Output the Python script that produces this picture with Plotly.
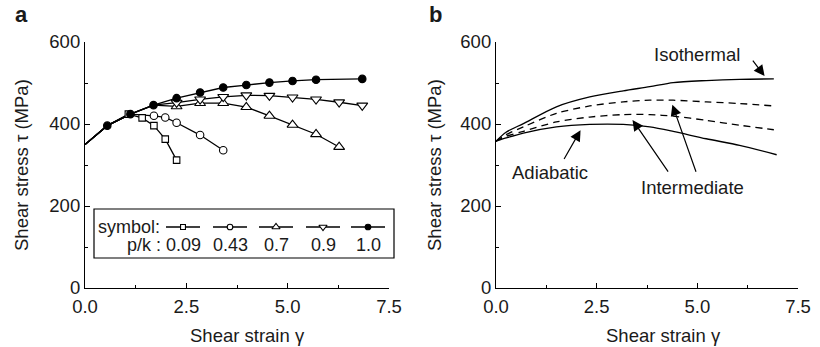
import plotly.graph_objects as go

W, H = 820, 347
FONT = "Liberation Sans, Arial, Helvetica, sans-serif"
FS = 18.5
INK = "#1a1a1a"

# ---------------- Panel a data ----------------
start_g, start_t = [0.0, 0.55, 1.12, 1.69], [350, 396, 424, 446]

g_009 = [1.07, 1.41, 1.70, 1.98, 2.26]
t_009 = [424, 415, 396, 363, 312]

g_043 = [1.70, 1.98, 2.26, 2.84, 3.41]
t_043 = [420, 416, 403, 373, 336]

g_070 = [2.26, 2.84, 3.41, 3.98, 4.55, 5.12, 5.70, 6.27]
t_070 = [443, 451, 451, 441, 420, 398, 375, 344]

g_090 = [2.26, 2.84, 3.41, 3.98, 4.55, 5.12, 5.70, 6.27, 6.84]
t_090 = [452, 460, 466, 470, 469, 465, 460, 453, 445]

g_100 = [0.55, 1.12, 1.69, 2.26, 2.84, 3.41, 3.98, 4.55, 5.12, 5.70, 6.84]
t_100 = [396, 424, 446, 463, 477, 489, 495, 501, 505, 508, 510]

pk_labels = ["0.09", "0.43", "0.7", "0.9", "1.0"]

# ---------------- Panel b data ----------------
g_b = [0.0, 0.25, 0.68, 1.5, 2.33, 3.16, 3.82, 4.4, 5.22, 6.05, 6.9]
t_iso = [358, 380, 401, 442, 466, 481, 491, 501, 506, 509, 510]
t_int_hi = [358, 374, 393, 426, 444, 454, 458, 458, 454, 450, 444]
t_int_lo = [358, 370, 382, 405, 417, 423, 423, 419, 409, 397, 386]
g_adi = [0.0, 0.25, 0.68, 1.5, 2.33, 3.16, 3.82, 4.4, 5.22, 6.05, 6.97]
t_adi = [358, 366, 378, 393, 399, 399, 393, 382, 364, 348, 325]

fig = go.Figure()

# panel a lines
def line_a(gs, ts):
    fig.add_trace(go.Scatter(x=gs, y=ts, mode="lines", xaxis="x", yaxis="y",
                             line=dict(color="black", width=1.3), hoverinfo="skip",
                             showlegend=False))

line_a(start_g[:2] + g_009, start_t[:2] + t_009)
line_a(start_g[:3] + g_043, start_t[:3] + t_043)
line_a(start_g + g_070, start_t + t_070)
line_a(start_g + g_090, start_t + t_090)
line_a(start_g[:1] + g_100, start_t[:1] + t_100)

series = [
    (g_009, t_009, "square", 6.5, "white"),
    (g_043, t_043, "circle", 7.5, "white"),
    (g_070, t_070, "triangle-up", 9.5, "white"),
    (g_090, t_090, "triangle-down", 9.5, "white"),
    (g_100, t_100, "circle", 7.5, "black"),
]
for gs, ts, sym, sz, fc in series:
    fig.add_trace(go.Scatter(x=gs, y=ts, mode="markers", xaxis="x", yaxis="y",
                             marker=dict(symbol=sym, size=sz, color=fc,
                                         line=dict(color="black", width=1.1)),
                             showlegend=False, hoverinfo="skip"))

# panel b lines
bline = dict(color="black", width=1.3, shape="spline", smoothing=0.8)
fig.add_trace(go.Scatter(x=g_b, y=t_iso, mode="lines", xaxis="x2", yaxis="y2",
                         line=bline, showlegend=False))
fig.add_trace(go.Scatter(x=g_b, y=t_int_hi, mode="lines", xaxis="x2", yaxis="y2",
                         line=dict(bline, dash="7px,5px"), showlegend=False))
fig.add_trace(go.Scatter(x=g_b, y=t_int_lo, mode="lines", xaxis="x2", yaxis="y2",
                         line=dict(bline, dash="7px,5px"), showlegend=False))
fig.add_trace(go.Scatter(x=g_adi, y=t_adi, mode="lines", xaxis="x2", yaxis="y2",
                         line=bline, showlegend=False))

# legend samples on a pixel-space overlay axis
leg_centers = [183, 230, 276, 323, 368]
leg_half = 17
leg_y = 227
for (gs, ts, sym, sz, fc), cx in zip(series, leg_centers):
    fig.add_trace(go.Scatter(x=[cx - leg_half, cx + leg_half], y=[leg_y, leg_y], mode="lines",
                             xaxis="x3", yaxis="y3", line=dict(color="black", width=1.3),
                             showlegend=False, hoverinfo="skip"))
    fig.add_trace(go.Scatter(x=[cx], y=[leg_y], mode="markers", xaxis="x3", yaxis="y3",
                             marker=dict(symbol=sym, size=sz * 0.75, color=fc,
                                         line=dict(color="black", width=1.1)),
                             showlegend=False, hoverinfo="skip"))

def px(x):
    return x / W

def py(y):
    return 1 - y / H

axis_common = dict(showline=True, linecolor="black", linewidth=1.2, ticks="inside",
                   ticklen=5, tickwidth=1.1, tickcolor="black", showgrid=False,
                   zeroline=False, tickfont=dict(family=FONT, size=FS, color=INK))
xdom_a = [px(85), px(389)]
xdom_b = [px(496), px(798)]
ydom = [py(288), py(42)]

xax = dict(axis_common, range=[0, 7.5], dtick=2.5, tick0=0, tickformat=".1f",
           ticklabelstandoff=2,
           minor=dict(dtick=1.25, ticks="inside", ticklen=3, tickcolor="black"))
yax = dict(axis_common, range=[0, 600], dtick=200, tick0=0, ticklabelstandoff=0,
           minor=dict(dtick=100, ticks="inside", ticklen=3, tickcolor="black"))

fig.update_layout(
    width=W, height=H, margin=dict(l=0, r=0, t=0, b=0, pad=0, autoexpand=False),
    paper_bgcolor="white", plot_bgcolor="rgba(0,0,0,0)",
    font=dict(family=FONT, size=FS, color=INK),
    xaxis=dict(xax, domain=xdom_a, anchor="y"),
    yaxis=dict(yax, domain=ydom, anchor="x"),
    xaxis2=dict(xax, domain=xdom_b, anchor="y2"),
    yaxis2=dict(yax, domain=ydom, anchor="x2"),
    xaxis3=dict(domain=[0, 1], range=[0, W], visible=False, anchor="y3"),
    yaxis3=dict(domain=[0, 1], range=[H, 0], visible=False, anchor="x3"),
    showlegend=False,
)

ann = []
def txt(x, y, s, **kw):
    d = dict(x=px(x), y=py(y), xref="paper", yref="paper", text=s, showarrow=False,
             xanchor="center", yanchor="middle",
             font=dict(family=FONT, size=kw.pop("size", FS), color=INK))
    d.update(kw)
    ann.append(d)

# panel letters
txt(21, 15, "<b>a</b>", size=22)
txt(435, 15, "<b>b</b>", size=22)
# axis titles
txt(21, 165, "Shear stress τ (MPa)", textangle=-90)
txt(434, 165, "Shear stress τ (MPa)", textangle=-90)
txt(247, 335, "Shear strain γ")
txt(663, 335, "Shear strain γ")
# legend text
LFS = 18
txt(162, 227, "symbol:", xanchor="right", size=LFS)
txt(163, 245, "p/k :", xanchor="right", size=LFS)
for lab, cx in zip(pk_labels, leg_centers):
    txt(cx, 245, lab, size=LFS)
# panel b labels
txt(697, 54, "Isothermal")
txt(550, 172, "Adiabatic")
txt(692, 188, "Intermediate")

arrows = [
    (6.67, 517, 6.35, 558),
    (2.10, 385, 1.67, 311),
    (3.39, 410, 4.30, 280),
    (4.38, 447, 4.98, 280),
]
for hx, hy, tx, ty in arrows:
    ann.append(dict(x=hx, y=hy, ax=tx, ay=ty, xref="x2", yref="y2", axref="x2", ayref="y2",
                    text="", showarrow=True, arrowhead=2, arrowsize=1.8, arrowwidth=1.2,
                    arrowcolor="black", standoff=0))

fig.update_layout(annotations=ann)

fig.add_shape(type="rect", xref="paper", yref="paper", x0=px(94), x1=px(394), y0=py(258), y1=py(209),
              line=dict(color="black", width=1.2), fillcolor="rgba(0,0,0,0)", layer="above")

fig.write_html("out.html")
